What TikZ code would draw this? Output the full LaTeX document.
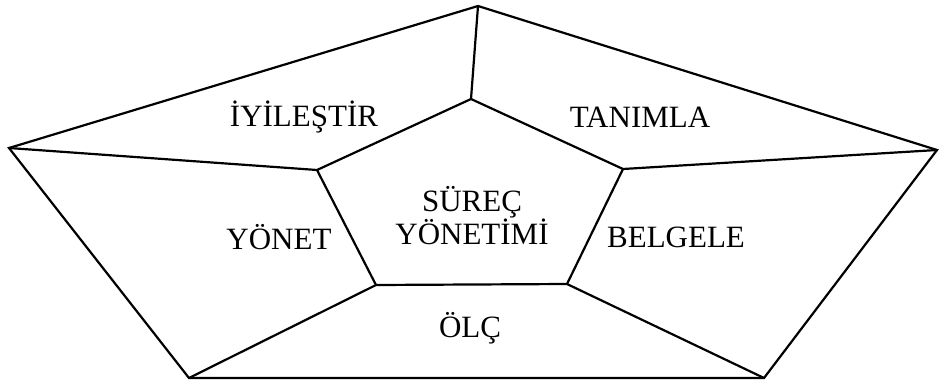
\documentclass[tikz,border=0pt]{standalone}
\usepackage{fontspec}
\setmainfont{Liberation Serif}
\begin{document}
\begin{tikzpicture}[x=1pt,y=-1pt,
    edge/.style={line width=2.2pt, line join=miter},
    lbl/.style={font=\fontsize{31}{31}\selectfont, inner sep=0pt, align=center}]
  \useasboundingbox (0,0) rectangle (940,383);
  % outer pentagon
  \coordinate (OT) at (478,6);
  \coordinate (OR) at (937,150);
  \coordinate (OBR) at (764,378);
  \coordinate (OBL) at (189,378);
  \coordinate (OL) at (9,148);
  % inner pentagon
  \coordinate (IT) at (471,99);
  \coordinate (IR) at (623,169);
  \coordinate (IBR) at (567,284);
  \coordinate (IBL) at (376,285);
  \coordinate (IL) at (317,170);
  \draw[edge] (OT) -- (OR) -- (OBR) -- (OBL) -- (OL) -- cycle;
  \draw[edge] (IT) -- (IR) -- (IBR) -- (IBL) -- (IL) -- cycle;
  % spokes
  \draw[edge] (OT) -- (IT);
  \draw[edge] (OR) -- (IR);
  \draw[edge] (OBR) -- (IBR);
  \draw[edge] (OBL) -- (IBL);
  \draw[edge] (OL) -- (IL);
  % labels
  \node[lbl] (center) at (472,216) {SÜREÇ\\YÖNETİMİ};
  \node[lbl] (iyilestir) at (304,117) {İYİLEŞTİR};
  \node[lbl] (tanimla) at (640,117) {TANIMLA};
  \node[lbl] (yonet) at (279,237) {YÖNET};
  \node[lbl] (belgele) at (676,237) {BELGELE};
  \node[lbl] (olc) at (470,328) {ÖLÇ};
\end{tikzpicture}
\end{document}
